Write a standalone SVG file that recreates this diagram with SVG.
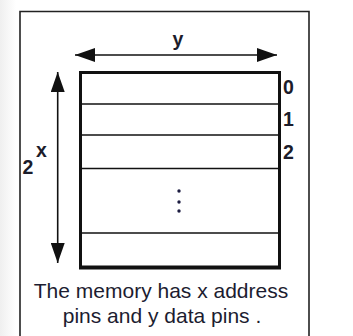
<svg xmlns="http://www.w3.org/2000/svg" width="353" height="336" viewBox="0 0 353 336">
<defs>
<linearGradient id="shadow" x1="0" y1="0" x2="1" y2="0">
<stop offset="0" stop-color="#efefef"/>
<stop offset="1" stop-color="#ffffff"/>
</linearGradient>
<marker id="ah" viewBox="0 0 20 14" refX="20" refY="7" markerWidth="20" markerHeight="14" markerUnits="userSpaceOnUse" orient="auto-start-reverse">
<path d="M0,0 L20,7 L0,14 Z" fill="#111"/>
</marker>
<style>
.lbl{font-family:"Liberation Sans",Arial,sans-serif;font-weight:bold;font-size:19.5px;fill:#1c1c2a}
.cap{font-family:"Liberation Sans",Arial,sans-serif;font-size:21px;fill:#1c1c30;text-anchor:middle}
.row{stroke:#111;stroke-width:1.6;fill:none}
.arr{stroke:#111;stroke-width:1.6;fill:none}
</style>
</defs>
<rect x="0" y="0" width="353" height="336" fill="#fff"/>
<rect x="0" y="0" width="16" height="336" fill="url(#shadow)"/>
<g id="frame">
<path d="M20,340 L20,11.5 L309,11.5 L309,340" fill="none" stroke="#222" stroke-width="1.6"/>
</g>
<g id="memory">
<line class="row" x1="80" y1="104" x2="280" y2="104"/>
<line class="row" x1="80" y1="135" x2="280" y2="135"/>
<line class="row" x1="80" y1="168.5" x2="280" y2="168.5"/>
<line class="row" x1="80" y1="233" x2="280" y2="233"/>
<path d="M80.5,267 L80.5,72.5 L279.5,72.5 L279.5,267" fill="none" stroke="#111" stroke-width="3"/>
<line x1="79" y1="267.5" x2="281" y2="267.5" stroke="#111" stroke-width="4"/>
<circle cx="179" cy="191" r="1.7" fill="#1c1c40"/>
<circle cx="179" cy="202" r="1.7" fill="#1c1c40"/>
<circle cx="179" cy="211" r="1.7" fill="#1c1c40"/>
</g>
<g id="connectors">
<line class="arr" x1="75" y1="55" x2="277" y2="55" marker-start="url(#ah)" marker-end="url(#ah)"/>
<line class="arr" x1="57.7" y1="72" x2="57.7" y2="263" marker-start="url(#ah)" marker-end="url(#ah)"/>
</g>
<g id="labels">
<text class="lbl" x="178" y="46" text-anchor="middle">y</text>
<text class="lbl" x="283" y="94">0</text>
<text class="lbl" x="283" y="126">1</text>
<text class="lbl" x="283" y="159">2</text>
<text class="lbl" x="22.5" y="174">2</text>
<text class="lbl" x="36" y="157">x</text>
</g>
<g id="caption">
<text class="cap" x="161" y="298">The memory has x address</text>
<text class="cap" x="162" y="323">pins and y data pins .</text>
</g>
</svg>
